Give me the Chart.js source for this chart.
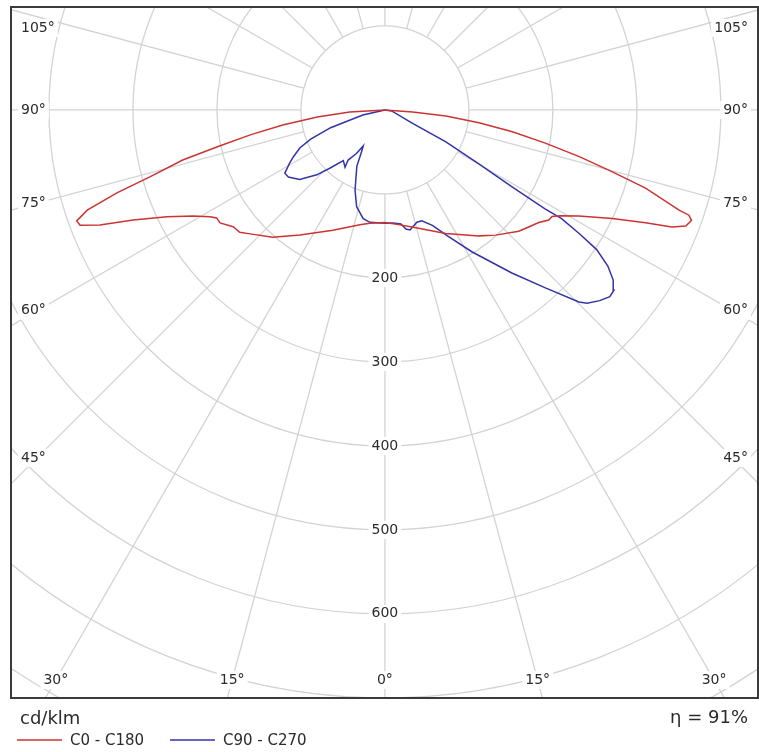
<!DOCTYPE html>
<html>
<head>
<meta charset="utf-8">
<script src="https://cdn.jsdelivr.net/npm/chart.js@4.4.1/dist/chart.umd.min.js"></script>
<style>
  html, body { margin: 0; padding: 0; background: #ffffff; }
  canvas { display: block; }
</style>
</head>
<body>
<canvas id="polar" width="759" height="752"></canvas>
<script>
// Luminous intensity distribution in cd/klm.
// Gamma angles are in degrees, measured from nadir (0°) towards the horizontal (90°).

// C0 plane (right half of the red curve)
const c0Gamma  = [0, 6, 13, 26.2, 36.7, 41.5, 47.8, 51, 53.8, 56.1, 57.5, 58.9, 61.3, 64.5, 66.6, 67.8, 68.9, 70.2, 70.9, 71.2, 73.3, 74.8, 76.5, 78.3, 80.3, 82.3, 84.4, 85.8, 90];
const c0Values = [134, 137, 143, 164, 187, 199, 215, 221, 227, 235, 236, 244, 263, 300, 338, 369, 384, 388, 383, 370, 324, 280, 238, 195, 154, 113, 73, 33, 0];

// C180 plane (left half of the red curve)
const c180Gamma  = [0, 7.6, 12.3, 23.4, 34.2, 41.4, 47.4, 49.9, 52.4, 55.6, 57.3, 58.6, 61.1, 63.9, 66.4, 68.0, 69.3, 70.2, 71.4, 72.8, 74.1, 76.1, 77.6, 79.5, 81.6, 84.1, 86.7, 90];
const c180Values = [134, 136, 140, 156, 180, 202, 218, 226, 228, 238, 238, 244, 261, 289, 327, 366, 388, 390, 374, 334, 291, 248, 205, 163, 123, 81, 42, 0];

// C90 plane (right half of the blue curve)
const c90Gamma  = [0, 4, 8, 10, 11.8, 15.9, 18.4, 22.5, 26.3, 31.5, 37.9, 42.1, 45.3, 46.3, 48.4, 50.3, 51.8, 53.3, 55.0, 56.6, 57.5, 58.4, 58.3, 58.8, 60.1, 62.3, 64.3, 82, 90];
const c90Values = [135, 135, 137, 144, 146, 139, 139, 149, 167, 198, 246, 286, 325, 333, 342, 348, 347, 339, 324, 302, 275, 247, 224, 177, 129, 82, 36, 8, 0];

// C270 plane (left half of the blue curve)
const c270Gamma  = [0, 7.6, 11.3, 16.3, 20.4, 26.5, 29.2, 31.1, 33.2, 36.3, 34.9, 39.4, 43.3, 46.4, 50.8, 55.2, 57.7, 60.8, 63, 65.9, 68.5, 71.9, 77, 90];
const c270Values = [135, 135, 132, 120, 102, 75, 57, 50, 62, 74, 83, 78, 95, 112, 131, 140, 141, 130, 122, 111, 95, 68, 27, 0];

// Grid and labels
const ringValues   = [100, 200, 300, 400, 500, 600, 700, 800, 900, 1000];
const ringLabels   = [200, 300, 400, 500, 600];
const spokeAngles  = [0, 15, 30, 45, 60, 75, 90, 105, 120, 135, 150, 165, 180, 195, 210, 225, 240, 255, 270, 285, 300, 315, 330, 345];
const angleLabels  = [0, 15, 30, 45, 60, 75, 90, 105];
const seriesNames  = ['C0 - C180', 'C90 - C270'];
const seriesColors = ['#cc3333', '#3434a8'];
const unitText     = 'cd/klm';
const efficiencyText = 'η = 91%';

const FONT = '"DejaVu Sans", Verdana, sans-serif';
const TEXT_COLOR = '#2b2b2b';

// Polar (gamma, intensity) -> cartesian point; side -1 = left half, +1 = right half
function toXY(gamma, value, side) {
  const rad = gamma * Math.PI / 180;
  return { x: side * value * Math.sin(rad), y: -value * Math.cos(rad) };
}

// Closed outline: left half from horizontal down to nadir, then right half back up
function outline(leftG, leftV, rightG, rightV) {
  const pts = [];
  for (let i = leftG.length - 1; i >= 0; i--) pts.push(toXY(leftG[i], leftV[i], -1));
  for (let i = 0; i < rightG.length; i++) pts.push(toXY(rightG[i], rightV[i], 1));
  return pts;
}

function boxedText(ctx, text, x, y, align) {
  const w = ctx.measureText(text).width;
  let left = x;
  if (align === 'center') left = x - w / 2;
  else if (align === 'right') left = x - w;
  ctx.fillStyle = '#ffffff';
  ctx.fillRect(left - 3, y - 9, w + 6, 18);
  ctx.fillStyle = TEXT_COLOR;
  ctx.textAlign = 'left';
  ctx.fillText(text, left, y);
}

const polarGrid = {
  id: 'polarGrid',
  beforeDatasetsDraw(chart) {
    const { ctx, chartArea: a, scales: { x, y } } = chart;
    const cx = x.getPixelForValue(0);
    const cy = y.getPixelForValue(0);
    const rad = v => x.getPixelForValue(v) - cx;

    ctx.save();
    ctx.beginPath();
    ctx.rect(a.left, a.top, a.right - a.left, a.bottom - a.top);
    ctx.clip();

    ctx.strokeStyle = '#d3d3d3';
    ctx.lineWidth = 1.3;
    for (const v of ringValues) {
      ctx.beginPath();
      ctx.arc(cx, cy, rad(v), 0, Math.PI * 2);
      ctx.stroke();
    }
    const r0 = rad(ringValues[0]);
    const r1 = rad(ringValues[ringValues.length - 1]) * 2;
    for (const g of spokeAngles) {
      const t = g * Math.PI / 180;
      const dx = Math.sin(t), dy = Math.cos(t);
      ctx.beginPath();
      ctx.moveTo(cx + dx * r0, cy + dy * r0);
      ctx.lineTo(cx + dx * r1, cy + dy * r1);
      ctx.stroke();
    }

    ctx.font = '14px ' + FONT;
    ctx.textBaseline = 'middle';

    // intensity labels along the nadir axis
    for (const v of ringLabels) {
      boxedText(ctx, String(v), cx, y.getPixelForValue(-v), 'center');
    }

    // angle labels where each spoke meets the inner label margin
    const sideReach = cx - (a.left + 25);
    const bottomReach = (a.bottom - 17) - cy;
    for (const g of angleLabels) {
      const t = g * Math.PI / 180;
      const s = Math.sin(t), c = Math.cos(t);
      let reach = s > 1e-6 ? sideReach / s : Infinity;
      if (c > 1e-6) reach = Math.min(reach, bottomReach / c);
      const py = Math.max(a.top + 20, cy + c * reach);
      const onSide = s > 1e-6 && Math.abs(sideReach / s - reach) < 0.5;
      const text = g + '°';
      if (g === 0) {
        boxedText(ctx, text, cx, py, 'center');
      } else if (onSide) {
        boxedText(ctx, text, a.left + 9, py, 'left');
        boxedText(ctx, text, a.right - 9, py, 'right');
      } else {
        const off = s * reach;
        boxedText(ctx, text, cx - off, py, 'center');
        boxedText(ctx, text, cx + off, py, 'center');
      }
    }
    ctx.restore();
  },
  afterDraw(chart) {
    const { ctx, chartArea: a } = chart;
    ctx.save();
    // frame
    ctx.strokeStyle = '#3a3a3a';
    ctx.lineWidth = 2;
    ctx.strokeRect(a.left - 1, a.top - 1, a.right - a.left + 2, a.bottom - a.top + 2);

    // unit and legend
    ctx.fillStyle = TEXT_COLOR;
    ctx.textBaseline = 'middle';
    ctx.font = '18px ' + FONT;
    ctx.textAlign = 'left';
    ctx.fillText(unitText, a.left + 8, a.bottom + 22);
    ctx.textAlign = 'right';
    ctx.fillText(efficiencyText, a.right - 9, a.bottom + 21);

    ctx.font = '15px ' + FONT;
    ctx.textAlign = 'left';
    const starts = [a.left + 5, a.left + 158];
    chart.data.datasets.forEach((ds, i) => {
      const x0 = starts[i];
      const ly = a.bottom + 43;
      ctx.strokeStyle = ds.borderColor;
      ctx.lineWidth = 1.5;
      ctx.beginPath();
      ctx.moveTo(x0, ly);
      ctx.lineTo(x0 + 45, ly);
      ctx.stroke();
      ctx.fillStyle = TEXT_COLOR;
      ctx.fillText(ds.label, x0 + 53, ly + 1);
    });
    ctx.restore();
  }
};

new Chart(document.getElementById('polar'), {
  type: 'scatter',
  data: {
    datasets: [
      {
        label: seriesNames[0],
        data: outline(c180Gamma, c180Values, c0Gamma, c0Values),
        borderColor: seriesColors[0],
        backgroundColor: seriesColors[0],
        borderWidth: 1.5,
        showLine: true,
        pointRadius: 0,
        tension: 0
      },
      {
        label: seriesNames[1],
        data: outline(c270Gamma, c270Values, c90Gamma, c90Values),
        borderColor: seriesColors[1],
        backgroundColor: seriesColors[1],
        borderWidth: 1.5,
        showLine: true,
        pointRadius: 0,
        tension: 0
      }
    ]
  },
  options: {
    responsive: false,
    animation: false,
    layout: { padding: { left: 12, top: 8, right: 2, bottom: 55 } },
    scales: {
      x: { type: 'linear', min: -444, max: 443, display: false },
      y: { type: 'linear', min: -699, max: 121.4, display: false }
    },
    plugins: {
      legend: { display: false },
      tooltip: { enabled: false }
    }
  },
  plugins: [polarGrid]
});
</script>
</body>
</html>
